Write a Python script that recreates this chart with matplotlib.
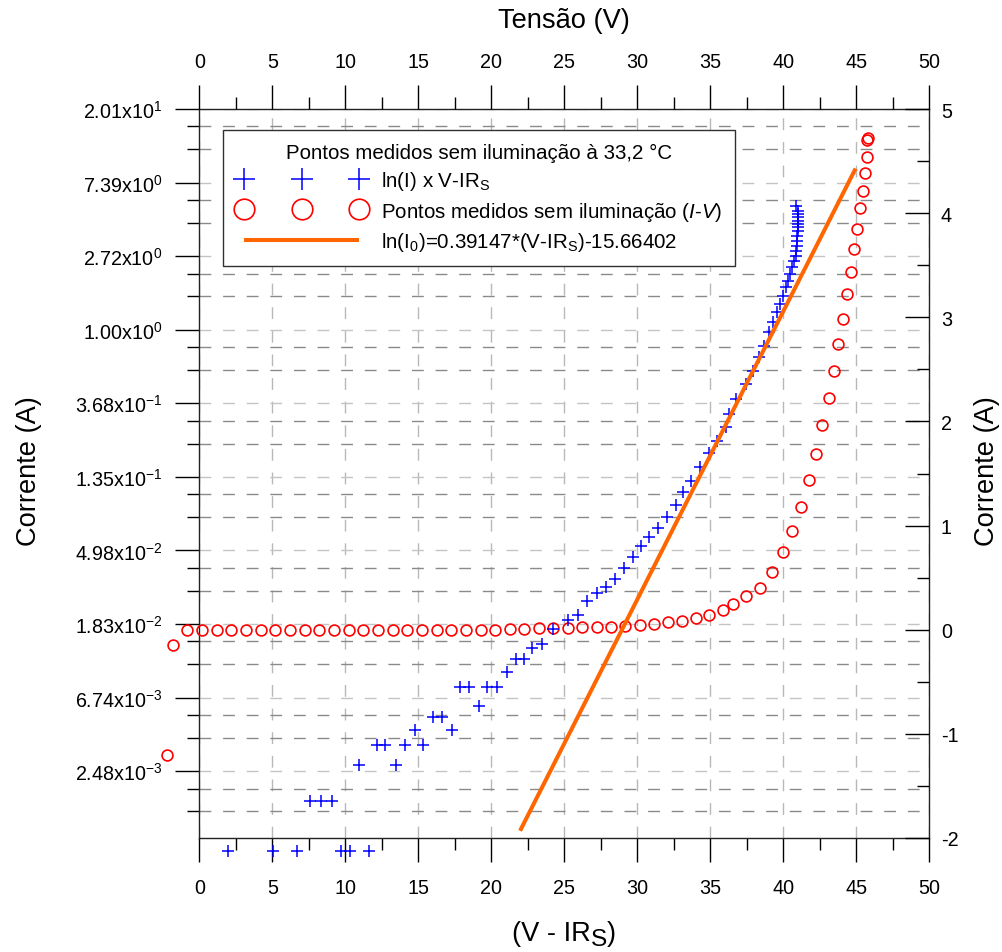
from __future__ import annotations

import matplotlib

matplotlib.use("Agg")
import matplotlib.pyplot as plt
import numpy as np
from matplotlib.legend_handler import HandlerLine2D
from matplotlib.ticker import FixedLocator, MultipleLocator

plt.rcParams["font.family"] = ["Liberation Sans", "DejaVu Sans"]
plt.rcParams["mathtext.fontset"] = "custom"
plt.rcParams["mathtext.rm"] = "Liberation Sans"
plt.rcParams["mathtext.it"] = "Liberation Sans:italic"
plt.rcParams["mathtext.bf"] = "Liberation Sans:bold"
plt.rcParams["axes.unicode_minus"] = False

# ln(I) x (V - IRs) points, bottom / left axes (left axis in ln units)
cross_v_irs = [
    1.95, 5.07, 6.71, 9.69, 10.29, 11.59,
    7.58, 8.34, 9.07,
    10.96, 13.47,
    12.15, 12.74, 14.11, 15.34,
    14.77, 17.29,
    15.98, 16.60,
    19.16,
    17.86, 18.49, 19.73, 20.37,
    21.05,
    21.67, 22.24,
    22.80, 23.49, 24.25, 25.27, 25.96, 26.58, 27.22, 27.86, 28.47, 29.09,
    29.68, 30.25, 30.82, 31.42, 32.01, 32.62, 33.16, 33.70, 34.32, 34.89,
    35.46, 36.05, 36.28, 36.75,
    37.45, 37.95, 38.36, 38.70, 39.04, 39.27, 39.55, 39.77, 40.00, 40.18,
    40.34, 40.46, 40.58, 40.73, 40.87, 40.87, 40.96, 40.96, 40.96, 41.03,
    41.03, 41.03, 41.03, 41.03, 41.03, 41.03, 40.84,
]
cross_ln_i = [
    -7.09, -7.09, -7.09, -7.09, -7.09, -7.09,
    -6.40, -6.40, -6.40,
    -5.92, -5.92,
    -5.64, -5.64, -5.64, -5.64,
    -5.44, -5.44,
    -5.26, -5.26,
    -5.11,
    -4.85, -4.85, -4.85, -4.85,
    -4.65,
    -4.48, -4.48,
    -4.32, -4.27, -4.07, -3.95, -3.875, -3.68, -3.58, -3.50, -3.39, -3.24,
    -3.09, -2.94, -2.815, -2.69, -2.54, -2.38, -2.21, -2.05, -1.87, -1.67,
    -1.51, -1.32, -1.14, -0.94,
    -0.736, -0.556, -0.374, -0.216, -0.034, 0.102, 0.238, 0.351, 0.463, 0.577,
    0.667, 0.758, 0.849, 0.939, 1.007, 1.075, 1.143, 1.211, 1.279, 1.347,
    1.393, 1.438, 1.482, 1.529, 1.573, 1.618, 1.675,
]

# measured I-V points without illumination, top / right axes
iv_voltage = [
    -2.19, -1.82, -0.82,
    0.16, 1.19, 2.19, 3.20, 4.20, 5.20, 6.20, 7.21, 8.21, 9.23, 10.23,
    11.23, 12.24, 13.25, 14.25, 15.25, 16.26, 17.26, 18.27, 19.27, 20.27,
    21.26, 22.24, 23.25, 24.25, 25.25, 26.23, 27.22, 28.20, 29.18, 30.16,
    31.12, 32.10, 33.04, 34.00, 34.93, 35.85, 36.58, 37.47, 38.42, 39.23,
    39.96, 40.60, 41.23, 41.78, 42.24, 42.67, 43.11, 43.47, 43.78, 44.11,
    44.34, 44.62, 44.84, 45.07, 45.25, 45.44, 45.62, 45.71, 45.75, 45.78,
]
iv_current = [
    -1.20, -0.147, 0.0,
    0.0, 0.0, 0.0, 0.0, 0.0, 0.0, 0.0, 0.0, 0.0, 0.0, 0.0,
    0.0, 0.0, 0.0, 0.0, 0.0, 0.0, 0.0, 0.0, 0.0, 0.0,
    0.006, 0.006, 0.013, 0.016, 0.019, 0.023, 0.023, 0.029, 0.036, 0.042,
    0.055, 0.071, 0.087, 0.110, 0.141, 0.186, 0.244, 0.327, 0.398, 0.557,
    0.744, 0.951, 1.182, 1.440, 1.687, 1.966, 2.222, 2.489, 2.739, 2.984,
    3.221, 3.438, 3.655, 3.845, 4.046, 4.215, 4.385, 4.536, 4.700, 4.720,
]

# fitted line ends
fit_v_irs = [21.97, 44.95]
fit_ln_i = [-6.81, 2.19]

left_tick_pos = [-6, -5, -4, -3, -2, -1, 0, 1, 2, 3]
left_tick_labels = [
    "2.48x10$^{-3}$", "6.74x10$^{-3}$", "1.83x10$^{-2}$", "4.98x10$^{-2}$",
    "1.35x10$^{-1}$", "3.68x10$^{-1}$", "1.00x10$^{0}$", "2.72x10$^{0}$",
    "7.39x10$^{0}$", "2.01x10$^{1}$",
]

legend_title = "Pontos medidos sem iluminação à 33,2 °C"
label_cross = r"ln(I) x V-IR$_\mathrm{S}$"
label_iv = r"Pontos medidos sem iluminação ($\mathit{I}$-$\mathit{V}$)"
label_fit = r"ln(I$_\mathrm{0}$)=0.39147*(V-IR$_\mathrm{S}$)-15.66402"

W, H = 1002, 953
TICK_FS = 14.2
LEGEND_FS = 14.8
LABEL_FS = 19.6


def minor_ln_ticks(majors):
    # Origin-style minor ticks: linear thirds between successive powers of e
    out = []
    for n in majors:
        for k in (1, 2):
            out.append(n + np.log(1 - k * (1 - np.exp(-1)) / 3))
    return out


def main() -> None:
    fig = plt.figure(figsize=(W / 100, H / 100), dpi=100)
    rect = [199.3 / W, 1 - 839 / H, 730 / W, 729 / H]
    ax = fig.add_axes(rect)
    ax2 = fig.add_axes(rect, frameon=False)
    ax2.patch.set_visible(False)

    # bottom / left: V - IRs vs ln(I)
    ax.set_xlim(0, 50)
    ax.set_ylim(np.log(0.001), 3)
    ax.xaxis.set_major_locator(MultipleLocator(5))
    ax.xaxis.set_minor_locator(MultipleLocator(2.5))
    ax.yaxis.set_major_locator(FixedLocator(left_tick_pos))
    ax.set_yticklabels(left_tick_labels)
    ax.yaxis.set_minor_locator(FixedLocator(minor_ln_ticks(left_tick_pos)))

    # top / right: Tensão vs Corrente
    ax2.set_xlim(0, 50)
    ax2.set_ylim(-2, 5)
    ax2.xaxis.set_major_locator(MultipleLocator(5))
    ax2.xaxis.set_minor_locator(MultipleLocator(2.5))
    ax2.yaxis.set_major_locator(MultipleLocator(1))
    ax2.yaxis.set_minor_locator(MultipleLocator(0.5))

    for s in ax.spines.values():
        s.set_linewidth(1.0)
        s.set_color("#222222")

    ax.tick_params(axis="both", which="major", direction="out", length=17.3,
                   width=1.0, labelsize=TICK_FS, top=False, right=False)
    ax.tick_params(axis="both", which="minor", direction="out", length=8.6,
                   width=1.0, top=False, right=False)
    ax.tick_params(axis="x", which="major", pad=11.5)
    ax.tick_params(axis="y", which="major", pad=9.4)

    ax2.tick_params(axis="x", which="both", direction="out", width=1.0,
                    top=True, bottom=False, labeltop=True, labelbottom=False)
    ax2.tick_params(axis="x", which="major", length=17.3, pad=10,
                    labelsize=TICK_FS)
    ax2.tick_params(axis="x", which="minor", length=8.6)
    ax2.tick_params(axis="y", which="both", direction="in", width=1.0,
                    right=True, left=False, labelright=True, labelleft=False)
    ax2.tick_params(axis="y", which="major", length=17.3, pad=8.4,
                    labelsize=TICK_FS)
    ax2.tick_params(axis="y", which="minor", length=8.6)

    # grid follows the bottom / left axes
    dash = (0, (8.5, 8.5))
    ax.grid(which="major", axis="y", color="#c4c4c4", lw=1.0, linestyle=dash)
    ax.grid(which="minor", axis="y", color="#8a8a8a", lw=1.0, linestyle=dash)
    ax.grid(which="major", axis="x", color="#b8b8b8", lw=1.0, linestyle=dash)
    ax.set_axisbelow(True)

    h_iv, = ax.plot(iv_voltage, iv_current, linestyle="none", marker="o",
                    ms=7.8, mfc="none", mec="#ff0000", mew=1.2,
                    transform=ax2.transData, clip_on=False, zorder=3)
    h_cross, = ax.plot(cross_v_irs, cross_ln_i, linestyle="none", marker="+",
                       ms=8.6, mec="#0000ff", mew=1.1, clip_on=False, zorder=4)
    h_fit, = ax.plot(fit_v_irs, fit_ln_i, color="#ff6600", lw=2.9,
                     solid_capstyle="butt", zorder=5)

    handler = HandlerLine2D(marker_pad=0.42)
    leg = ax.legend(
        [h_cross, h_iv, h_fit], [label_cross, label_iv, label_fit],
        title=legend_title, loc="upper left",
        bbox_to_anchor=((222.7 - 199.3) / 730, (839 - 131) / 729),
        borderaxespad=0, numpoints=3, markerscale=1.9, handlelength=6.44,
        handletextpad=0.65, borderpad=0.62, labelspacing=0.36,
        fontsize=LEGEND_FS, title_fontsize=LEGEND_FS, fancybox=False,
        framealpha=1, edgecolor="#303030",
        handler_map={h_cross: handler, h_iv: handler, h_fit: handler},
    )
    leg.get_frame().set_linewidth(1.0)

    # axis titles
    fig.text(564 / W, 1 - 21 / H, "Tensão (V)", fontsize=LABEL_FS,
             ha="center", va="center")
    fig.text(29 / W, 1 - 471.5 / H, "Corrente (A)", fontsize=LABEL_FS,
             ha="center", va="center", rotation=90)
    fig.text(987 / W, 1 - 471.5 / H, "Corrente (A)", fontsize=LABEL_FS,
             ha="center", va="center", rotation=90)

    # "(V - IRs)" with a lowered, nearly full-size S
    t1 = fig.text(512 / W, 1 - 941.5 / H, "(V - IR", fontsize=LABEL_FS,
                  ha="left", va="baseline")
    t2 = ax.annotate("S", xy=(1, 0), xycoords=t1, xytext=(0, 1.2),
                     textcoords="offset points", fontsize=LABEL_FS - 2,
                     ha="left", va="baseline", annotation_clip=False)
    ax.annotate(")", xy=(1, 0), xycoords=(t2, t1), fontsize=LABEL_FS,
                ha="left", va="bottom", annotation_clip=False)

    fig.savefig("out.png", dpi=100)
    plt.close(fig)


if __name__ == "__main__":
    main()
